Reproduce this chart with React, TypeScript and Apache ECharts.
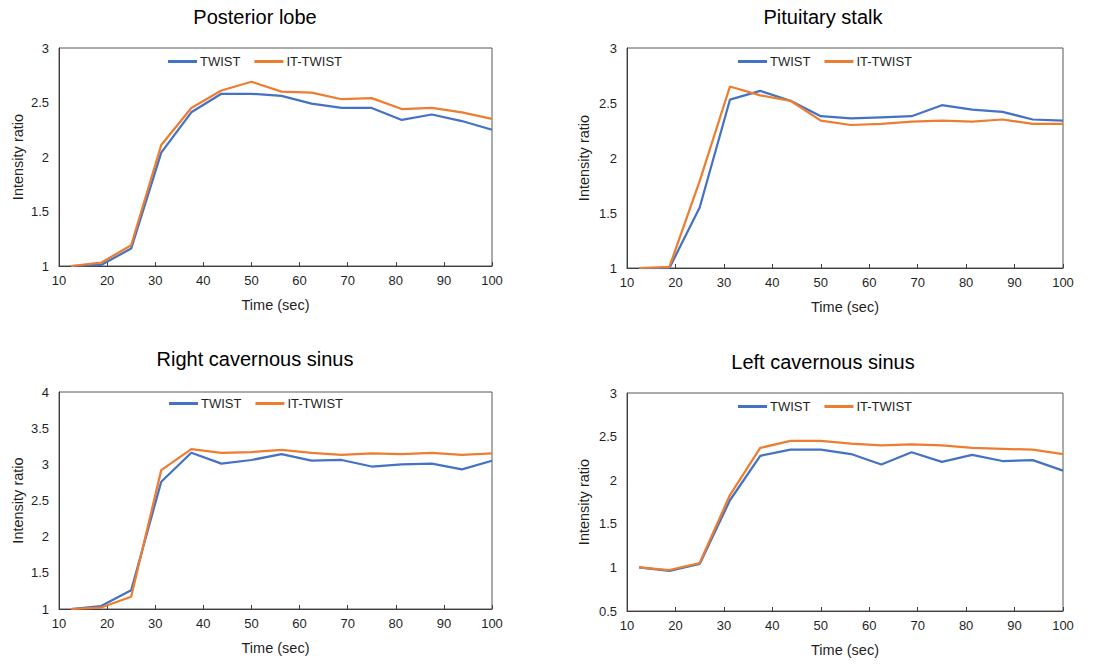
import React, { useEffect, useRef } from "react";
import * as echarts from "echarts";

const times = [12.5, 18.75, 25, 31.25, 37.5, 43.75, 50, 56.25, 62.5, 68.75, 75, 81.25, 87.5, 93.75, 100];

const panelTitles = ["Posterior lobe", "Pituitary stalk", "Right cavernous sinus", "Left cavernous sinus"];
const seriesNames = ["TWIST", "IT-TWIST"];

const posteriorTwist = [1.0, 1.01, 1.16, 2.04, 2.41, 2.58, 2.58, 2.56, 2.49, 2.45, 2.45, 2.34, 2.39, 2.33, 2.25];
const posteriorIt = [1.0, 1.03, 1.19, 2.11, 2.45, 2.61, 2.69, 2.60, 2.59, 2.53, 2.54, 2.44, 2.45, 2.41, 2.35];

const stalkTwist = [1.0, 1.0, 1.55, 2.53, 2.61, 2.52, 2.38, 2.36, 2.37, 2.38, 2.48, 2.44, 2.42, 2.35, 2.34];
const stalkIt = [1.0, 1.01, 1.79, 2.65, 2.57, 2.52, 2.34, 2.30, 2.31, 2.33, 2.34, 2.33, 2.35, 2.31, 2.31];

const rightTwist = [1.0, 1.04, 1.26, 2.76, 3.16, 3.01, 3.06, 3.14, 3.05, 3.06, 2.97, 3.0, 3.01, 2.93, 3.05];
const rightIt = [1.0, 1.02, 1.17, 2.92, 3.21, 3.16, 3.17, 3.20, 3.16, 3.13, 3.15, 3.14, 3.16, 3.13, 3.15];

const leftTwist = [1.0, 0.96, 1.04, 1.77, 2.28, 2.35, 2.35, 2.30, 2.18, 2.32, 2.21, 2.29, 2.22, 2.23, 2.11];
const leftIt = [1.0, 0.97, 1.05, 1.83, 2.37, 2.45, 2.45, 2.42, 2.40, 2.41, 2.40, 2.37, 2.36, 2.35, 2.30];

const yMins = [1, 1, 1, 0.5];
const yMaxs = [3, 3, 4, 3];

const panelSeries = [
  [posteriorTwist, posteriorIt],
  [stalkTwist, stalkIt],
  [rightTwist, rightIt],
  [leftTwist, leftIt],
];

const colors = ["#4472C4", "#ED7D31"];
const FONT = "Liberation Sans, Arial, sans-serif";
const TEXT = "#1f1f1f";

const grids = [
  { left: 59, top: 48, width: 433, height: 218 },
  { left: 627, top: 48, width: 436, height: 220 },
  { left: 59, top: 392, width: 433, height: 217 },
  { left: 627, top: 393, width: 436, height: 218 },
];
const titlePos = [
  { x: 255, y: 17 },
  { x: 823, y: 17 },
  { x: 255, y: 359 },
  { x: 823, y: 362 },
];
const legendPos = [
  { left: 168, top: 55 },
  { left: 738, top: 55 },
  { left: 169, top: 397 },
  { left: 738, top: 400 },
];

export default function App() {
  const ref = useRef<HTMLDivElement>(null);
  useEffect(() => {
    if (!ref.current) return;
    const chart = echarts.init(ref.current, null, { renderer: "svg" });
    const option: any = {
      animation: false,
      backgroundColor: "#ffffff",
      grid: grids.map((g) => ({
        ...g,
        show: true,
        borderColor: "#595959",
        borderWidth: 1,
        containLabel: false,
      })),
      legend: legendPos.map((p) => ({
        left: p.left,
        top: p.top,
        padding: 0,
        data: seriesNames,
        icon: "rect",
        itemWidth: 29,
        itemHeight: 3,
        itemGap: 14,
        selectedMode: false,
        textStyle: { fontFamily: FONT, fontSize: 13, color: TEXT, padding: [0, 0, 0, -2] },
      })),
      xAxis: grids.map((_, i) => ({
        type: "value",
        gridIndex: i,
        min: 10,
        max: 100,
        interval: 10,
        name: "Time (sec)",
        nameLocation: "middle",
        nameGap: 31,
        nameTextStyle: { fontFamily: FONT, fontSize: 14.5, color: TEXT },
        axisLine: { show: true, lineStyle: { color: "#404040", width: 1 } },
        axisTick: { show: true, inside: true, length: 4, lineStyle: { color: "#404040" } },
        axisLabel: { fontFamily: FONT, fontSize: 13, color: TEXT, margin: 8 },
        splitLine: { show: false },
      })),
      yAxis: grids.map((_, i) => ({
        type: "value",
        gridIndex: i,
        min: yMins[i],
        max: yMaxs[i],
        interval: 0.5,
        name: "Intensity ratio",
        nameLocation: "middle",
        nameGap: i % 2 === 0 ? 34 : 36,
        nameTextStyle: { fontFamily: FONT, fontSize: 14.5, color: TEXT },
        axisLine: { show: true, lineStyle: { color: "#404040", width: 1 } },
        axisTick: { show: false },
        axisLabel: { fontFamily: FONT, fontSize: 13, color: TEXT, margin: 10 },
        splitLine: { show: false },
      })),
      graphic: titlePos.map((p, i) => ({
        type: "text",
        x: p.x,
        y: p.y,
        style: {
          text: panelTitles[i],
          fontFamily: FONT,
          fontSize: 20,
          fill: "#000000",
          textAlign: "center",
          textVerticalAlign: "middle",
        },
      })),
      series: panelSeries.flatMap((pair, i) =>
        pair.map((vals, k) => ({
          type: "line",
          name: seriesNames[k],
          xAxisIndex: i,
          yAxisIndex: i,
          data: times.map((t, j) => [t, vals[j]]),
          symbol: "none",
          showSymbol: false,
          color: colors[k],
          itemStyle: { color: colors[k] },
          lineStyle: { color: colors[k], width: 2.25 },
          z: k === 1 ? 3 : 2,
        }))
      ),
    };
    chart.setOption(option);
    return () => chart.dispose();
  }, []);
  return (
    <div
      ref={ref}
      style={{ position: "absolute", left: 0, top: 0, width: 1115, height: 665 }}
    />
  );
}
